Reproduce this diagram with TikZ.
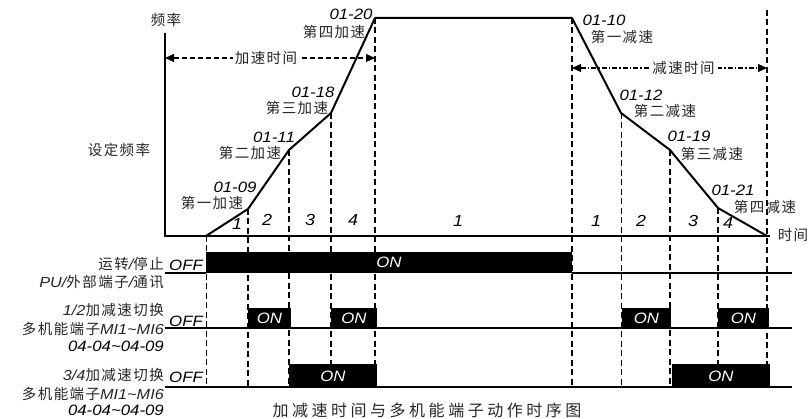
\documentclass[tikz,border=0pt]{standalone}
\usepackage{fontspec}
\setmainfont{Liberation Sans}[FakeStretch=1.12]
\newfontfamily\cjk{Noto Sans CJK SC}[LetterSpace=10]
\usetikzlibrary{arrows.meta}
\tikzset{
  >={Triangle[length=9pt,width=8pt]},
  axis/.style   ={line width=2.2pt},
  prof/.style   ={line width=2pt, line join=round},
  vdash/.style  ={line width=1.5pt, dash pattern=on 6pt off 3.5pt},
  vthin/.style  ={line width=0.9pt, dash pattern=on 6pt off 3.5pt},
  sig/.style    ={line width=2pt},
  tarr/.style   ={<->, line width=1.1pt, dash pattern=on 5pt off 3pt},
  tarr2/.style  ={<->, line width=1.1pt, dash pattern=on 5pt off 2pt on 1.5pt off 2pt},
  cn/.style     ={font=\cjk\fontsize{14.5}{16}\selectfont, text=black!85, inner sep=0pt},
  num/.style    ={font=\itshape\fontsize{15}{17}\selectfont, inner sep=0pt},
  seg/.style    ={font=\itshape\fontsize{16}{18}\selectfont, inner sep=0pt},
  ontxt/.style  ={font=\itshape\fontsize{15}{17}\selectfont, text=white, inner sep=0pt},
  offtxt/.style ={font=\itshape\fontsize{15}{17}\selectfont, inner sep=0pt},
}
\newcommand{\la}[1]{{\rmfamily\itshape #1}}

\begin{document}
\begin{tikzpicture}[x=1pt, y=-1pt]
  \useasboundingbox (0,0) rectangle (811,419);

  % frequency profile
  \coordinate (O)  at (165,236);
  \coordinate (a0) at (206,236);
  \coordinate (a1) at (248,209);
  \coordinate (a2) at (289,150);
  \coordinate (a3) at (331,113);
  \coordinate (a4) at (375,18);
  \coordinate (d0) at (572,18);
  \coordinate (d1) at (621,113);
  \coordinate (d2) at (670,150);
  \coordinate (d3) at (718,208);
  \coordinate (d4) at (767,236);
  \coordinate (bot) at (165,387);
  \coordinate (dtop) at (767,10);

  \draw[axis] (165,33) -- (O) -- (770,236);
  \draw[prof] (a0) -- (a1) -- (a2) -- (a3) -- (a4) -- (d0) -- (d1) -- (d2) -- (d3) -- (d4);

  \foreach \p in {a1,a2,a3,a4,d0,d2,d3}
    \draw[vdash] (\p) -- (\p |- bot);
  \foreach \p in {a0,d1}
    \draw[vthin] (\p) -- (\p |- bot);
  \draw[vdash] (dtop) -- (dtop |- bot);

  \node[cn] (yl) at (166,20) {频率};
  \node[cn] (fset) at (119,150) {设定频率};
  \node[cn] (xl) at (793,235) {时间};

  \coordinate (acl) at (165,58);
  \coordinate (dcl) at (572,68);
  \draw[tarr] (acl) -- (acl -| a4) node[cn, midway, xshift=-4pt, fill=white, inner xsep=2pt] {加速时间};
  \draw[tarr2] (dcl) -- (dcl -| d4) node[cn, midway, xshift=14pt, fill=white, inner xsep=3pt] {减速时间};

  \node[num] (p1) at (235,187) {01-09};  \node[cn] (t1) at (212,203) {第一加速};
  \node[num] (p2) at (274,137) {01-11};  \node[cn] (t2) at (250,153) {第二加速};
  \node[num] (p3) at (313,92)  {01-18};  \node[cn] (t3) at (297,108) {第三加速};
  \node[num] (p4) at (351,14)  {01-20};  \node[cn] (t4) at (334,32)  {第四加速};
  \node[num] (q1) at (604,20)  {01-10};  \node[cn] (u1) at (622,37)  {第一减速};
  \node[num] (q2) at (641,95)  {01-12};  \node[cn] (u2) at (665,111) {第二减速};
  \node[num] (q3) at (689,136) {01-19};  \node[cn] (u3) at (712,154) {第三减速};
  \node[num] (q4) at (733,190) {01-21};  \node[cn] (u4) at (765,207) {第四减速};

  \foreach \x/\y/\n in {237/224/1, 267/220/2, 310/220/3, 353/220/4, 458/221/1,
                        596/221/1, 641/221/2, 693/221/3, 728/223/4}
    \node[seg] at (\x,\y) {\n};

  % signal rows
  \draw[sig] (165,273) -- (206,273);
  \draw[sig] (572,273) -- (792,273);
  \fill (206,252) rectangle (572,273);
  \node[ontxt] (on0) at (389,262) {ON};

  \draw[sig] (165,328) -- (792,328);
  \foreach \l/\r in {248/291, 331/377, 622/671, 718/769} {
    \fill (\l,308) rectangle (\r,328);
    \node[ontxt] at ({(\l+\r)/2},318) {ON};
  }

  \draw[sig] (165,387) -- (792,387);
  \foreach \l/\r in {289/377, 672/770} {
    \fill (\l,364) rectangle (\r,387);
    \node[ontxt] at ({(\l+\r)/2},376) {ON};
  }

  \node[offtxt] (off1) at (186,265) {OFF};
  \node[offtxt] (off2) at (186,321) {OFF};
  \node[offtxt] (off3) at (186,377) {OFF};

  \node[cn, anchor=east] (r1a) at (164,264) {运转\la{/}停止};
  \node[cn, anchor=east] (r1b) at (164,282) {\la{PU/}外部端子\la{/}通讯};
  \node[cn, anchor=east] (r2a) at (164,310) {\la{1/2}加减速切换};
  \node[cn, anchor=east] (r2b) at (164,329) {多机能端子\la{MI1\textasciitilde MI6}};
  \node[num, anchor=east] (r2c) at (164,346) {04-04\textasciitilde 04-09};
  \node[cn, anchor=east] (r3a) at (164,375) {\la{3/4}加减速切换};
  \node[cn, anchor=east] (r3b) at (164,394) {多机能端子\la{MI1\textasciitilde MI6}};
  \node[num, anchor=east] (r3c) at (164,410) {04-04\textasciitilde 04-09};

  \node[cn, font=\cjk\addfontfeature{LetterSpace=22}\fontsize{16}{18}\selectfont] (cap) at (427,410) {加减速时间与多机能端子动作时序图};
\end{tikzpicture}
\end{document}
